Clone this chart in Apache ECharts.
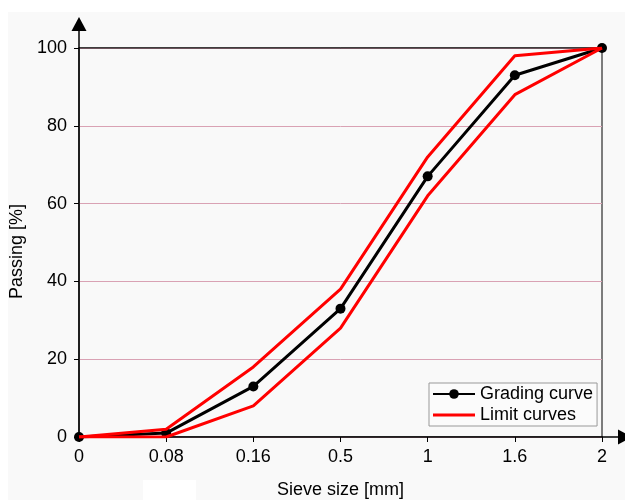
<!DOCTYPE html>
<html>
<head>
<meta charset="utf-8">
<script src="https://cdn.jsdelivr.net/npm/echarts@6/dist/echarts.min.js"></script>
<style>
  html, body { margin: 0; padding: 0; background: #ffffff; }
  #chart { width: 625px; height: 500px; }
</style>
</head>
<body>
<div id="chart"></div>
<script>
// Sieve sizes (mm) shown as evenly spaced categories
const sieveSizes = ['0', '0.08', '0.16', '0.5', '1', '1.6', '2'];
// Passing percentages
const gradingCurve = [0, 1, 13, 33, 67, 93, 100];
const upperLimit = [0, 2, 18, 38, 72, 98, 100];
const lowerLimit = [0, 0, 8, 28, 62, 88, 100];
const yTicks = { min: 0, max: 100, interval: 20 };

const FONT = '"Liberation Sans", Arial, sans-serif';
const chart = echarts.init(document.getElementById('chart'));

const option = {
  backgroundColor: '#ffffff',
  animation: false,
  textStyle: { fontFamily: FONT },
  grid: {
    left: 79, right: 23, top: 48, bottom: 63,
    outerBoundsMode: 'none',
    containLabel: false,
    show: true, borderColor: '#000', borderWidth: 1, backgroundColor: 'transparent'
  },
  legend: {
    left: 429, top: 383,
    orient: 'vertical',
    itemWidth: 42, itemHeight: 12, itemGap: 3,
    padding: [2, 4, 2, 3],
    backgroundColor: '#fbfbfb',
    borderColor: '#999', borderWidth: 1,
    textStyle: { fontSize: 18, color: '#000', fontFamily: FONT, padding: [0, 0, 0, 0] },
    data: [
      { name: 'Grading curve' },
      { name: 'Limit curves', icon: 'path://M0,0 L42,0 L42,3 L0,3 Z', itemStyle: { color: '#ff0000' } }
    ]
  },
  xAxis: {
    type: 'category',
    data: sieveSizes,
    boundaryGap: false,
    name: 'Sieve size [mm]',
    nameLocation: 'middle',
    nameGap: 44,
    nameTextStyle: { fontSize: 18, color: '#000', fontFamily: FONT },
    axisLine: { lineStyle: { color: '#000', width: 1.5 } },
    axisTick: { show: true, length: 5, lineStyle: { color: '#000' }, alignWithLabel: true },
    axisLabel: { fontSize: 18, color: '#000', margin: 11, fontFamily: FONT },
    splitLine: { show: false }
  },
  yAxis: {
    type: 'value',
    min: yTicks.min, max: yTicks.max, interval: yTicks.interval,
    name: 'Passing [%]',
    nameLocation: 'middle',
    nameGap: 47,
    nameTextStyle: { fontSize: 18, color: '#000', fontFamily: FONT, padding: [0, 18, 0, 0] },
    axisLine: { show: true, lineStyle: { color: '#000', width: 1.5 } },
    axisTick: { show: true, length: 5, lineStyle: { color: '#000' } },
    axisLabel: { fontSize: 18, color: '#000', margin: 12, fontFamily: FONT },
    splitLine: { show: true, lineStyle: { color: '#d9a2b4', width: 1 } }
  },
  series: [
    {
      name: 'Grading curve', type: 'line', data: gradingCurve,
      symbol: 'circle', symbolSize: 10,
      lineStyle: { color: '#000', width: 3 }, itemStyle: { color: '#000' }, z: 3
    },
    {
      name: 'Limit curves', type: 'line', data: upperLimit,
      symbol: 'none', lineStyle: { color: '#ff0000', width: 3 }, itemStyle: { color: '#ff0000' }, z: 4
    },
    {
      name: 'Limit curves', type: 'line', data: lowerLimit,
      symbol: 'none', lineStyle: { color: '#ff0000', width: 3 }, itemStyle: { color: '#ff0000' }, z: 4
    }
  ]
};
chart.setOption(option);

// Axis arrows, top frame line and panel backdrop, placed from the axes' own pixel positions
const origin = chart.convertToPixel({ gridIndex: 0 }, [0, 0]);
const yTop = chart.convertToPixel({ gridIndex: 0 }, [0, yTicks.max]);
const xEnd = chart.convertToPixel({ gridIndex: 0 }, [sieveSizes.length - 1, 0]);
const ax = origin[0], ay = origin[1];
const yArrowTip = yTop[1] - 31;
const xArrowTip = xEnd[0] + 30;

chart.setOption({
  graphic: [
    { type: 'rect', shape: { x: 8, y: 12, width: 625, height: 500 }, style: { fill: '#f9f9f9' }, z: -10, silent: true },
    { type: 'rect', shape: { x: 143, y: 480, width: 53, height: 20 }, style: { fill: '#ffffff' }, z: -9, silent: true },
    { type: 'line', shape: { x1: ax, y1: yTop[1], x2: xEnd[0], y2: yTop[1] }, style: { stroke: '#000', lineWidth: 1.2 }, z: 2 },
    { type: 'line', shape: { x1: ax, y1: yTop[1], x2: ax, y2: yArrowTip + 10 }, style: { stroke: '#000', lineWidth: 1.5 }, z: 10 },
    { type: 'polygon', shape: { points: [[ax, yArrowTip], [ax - 7.5, yArrowTip + 14], [ax + 7.5, yArrowTip + 14]] }, style: { fill: '#000' }, z: 10 },
    { type: 'line', shape: { x1: xEnd[0], y1: ay, x2: xArrowTip - 10, y2: ay }, style: { stroke: '#000', lineWidth: 1.5 }, z: 10 },
    { type: 'polygon', shape: { points: [[xArrowTip, ay], [xArrowTip - 14, ay - 7.5], [xArrowTip - 14, ay + 7.5]] }, style: { fill: '#000' }, z: 10 }
  ]
});
</script>
</body>
</html>
